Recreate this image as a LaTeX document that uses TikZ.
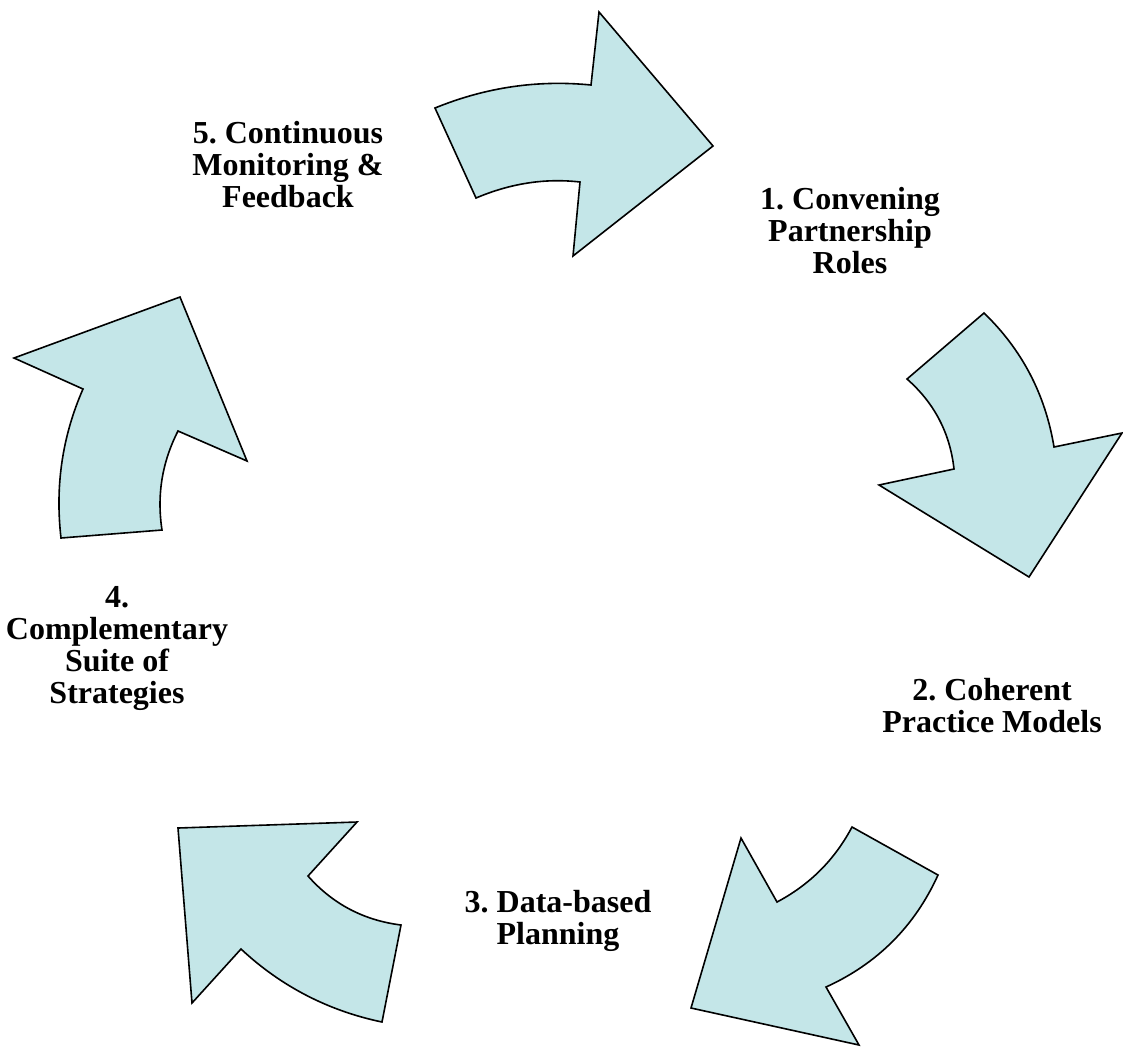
\documentclass[tikz,border=0pt]{standalone}
\usepackage{fontspec}
\setmainfont{Liberation Serif}
\definecolor{arrowfill}{RGB}{196,230,232}
\begin{document}
\frenchspacing
\begin{tikzpicture}[x=0.75pt,y=-0.75pt,
  cyclearrow/.style={draw=black,line width=1.2pt,fill=arrowfill,line join=miter},
  lbl/.style={align=center,font=\fontsize{24}{24}\selectfont\bfseries,inner sep=0pt}]
\useasboundingbox (0,0) rectangle (1123,1047);
% arrow 1 (top)
\draw[cyclearrow] (435,108) .. controls (485.7,87.3) and (537.7,79.7) .. (591,85) -- (599,12) -- (713,146) -- (573,256) -- (580,182) .. controls (545.3,178) and (510.7,183.3) .. (476,198) -- cycle;
% arrow 2 (right)
\draw[cyclearrow] (984,313) -- (907,379) .. controls (934.3,403) and (950,433) .. (954,469) -- (879,485) -- (1029,577) -- (1122,433) -- (1054,447) .. controls (1045.3,394.3) and (1022,349.7) .. cycle;
% arrow 3 (bottom right)
\draw[cyclearrow] (852,827) -- (938,875) .. controls (914.7,926.3) and (877.3,963.7) .. (826,987) -- (859,1045) -- (691,1008) -- (741,838) -- (777,902) .. controls (809.7,884.7) and (834.7,859.7) .. cycle;
% arrow 4 (bottom left)
\draw[cyclearrow] (178,828) -- (357,822) -- (308,876) .. controls (332.7,904) and (363.7,920.3) .. (401,925) -- (382,1022) .. controls (328,1010.7) and (281,986.3) .. (241,949) -- (192,1003) -- cycle;
% arrow 5 (left)
\draw[cyclearrow] (61,538) -- (162,530) .. controls (156.7,495.3) and (162,462.3) .. (178,431) -- (247,461) -- (180,297) -- (14,358) -- (83,389) .. controls (62.3,436.3) and (55,486) .. cycle;
% labels
\node[lbl] (l1) at (850,231) {1. Convening\\Partnership\\Roles};
\node[lbl] (l2) at (992,706) {2. Coherent\\Practice Models};
\node[lbl] (l3) at (558,921) {3. Data-based\\Planning};
\node[lbl] (l4) at (117,648) {4.\\Complementary\\Suite of\\Strategies};
\node[lbl] (l5) at (288,165) {5. Continuous\\Monitoring \&\\Feedback};
\end{tikzpicture}
\end{document}
